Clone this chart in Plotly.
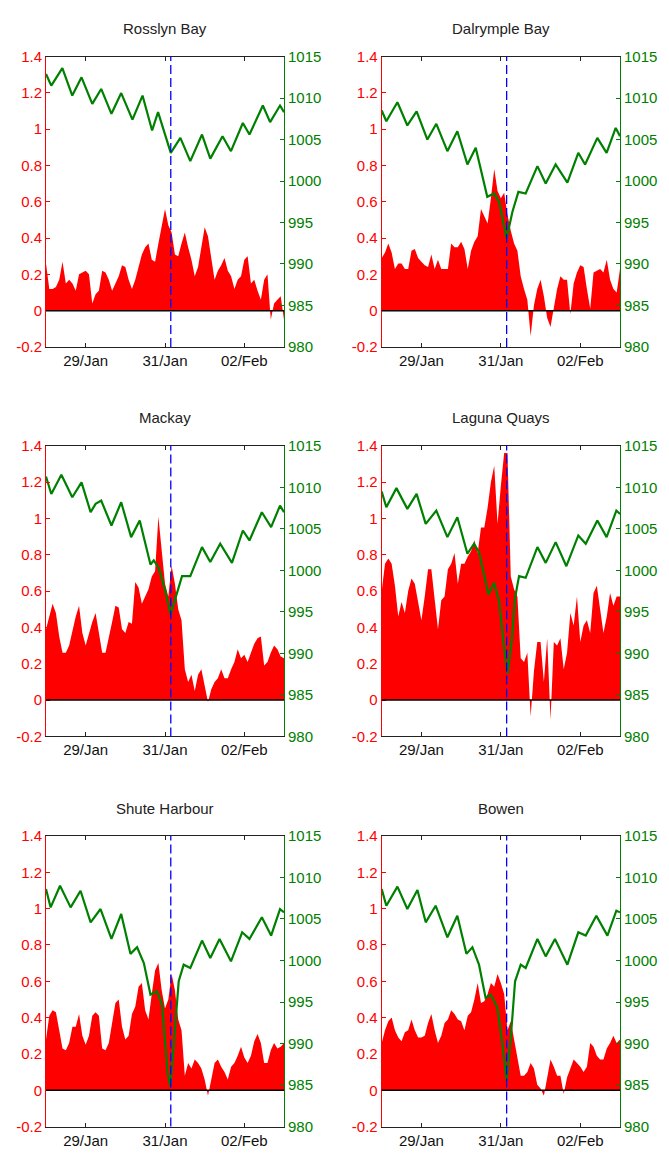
import plotly.graph_objects as go
import pandas as pd

# ---------------- data ----------------
stations = ["Rosslyn Bay", "Dalrymple Bay", "Mackay", "Laguna Quays", "Shute Harbour", "Bowen"]
series_start = "2014-01-28 00:00"
series_end = "2014-02-03 00:00"
surge_step_hours = 2
storm_time = "2014-01-31 03:30"

# residual water level (m), every 2 hours from 28/Jan 00:00
surge_rosslyn = [0.26, 0.12, 0.12, 0.13, 0.17, 0.27, 0.15, 0.17, 0.15, 0.11,
                 0.20, 0.21, 0.22, 0.20, 0.04, 0.09, 0.11, 0.22, 0.21, 0.17,
                 0.11, 0.15, 0.19, 0.25, 0.24, 0.17, 0.12, 0.17, 0.24, 0.31,
                 0.35, 0.37, 0.28, 0.27, 0.37, 0.47, 0.56, 0.47, 0.43, 0.31,
                 0.30, 0.37, 0.43, 0.35, 0.28, 0.19, 0.24, 0.35, 0.46, 0.41,
                 0.29, 0.17, 0.22, 0.25, 0.29, 0.22, 0.19, 0.12, 0.17, 0.19,
                 0.28, 0.30, 0.15, 0.17, 0.11, 0.06, 0.17, 0.20, -0.05, 0.04,
                 0.06, 0.08, -0.05]
surge_dalrymple = [0.29, 0.32, 0.37, 0.32, 0.23, 0.26, 0.26, 0.23, 0.23, 0.33,
                   0.34, 0.29, 0.27, 0.25, 0.24, 0.31, 0.23, 0.28, 0.23, 0.23,
                   0.23, 0.37, 0.35, 0.35, 0.38, 0.34, 0.23, 0.33, 0.38, 0.41,
                   0.56, 0.52, 0.48, 0.62, 0.78, 0.66, 0.62, 0.65, 0.53, 0.44,
                   0.37, 0.33, 0.19, 0.12, 0.06, -0.14, 0.03, 0.12, 0.17, 0.08,
                   -0.04, -0.09, 0.01, 0.12, 0.19, 0.17, 0.17, -0.02, 0.15, 0.21,
                   0.25, 0.24, 0.12, 0.01, 0.21, 0.22, 0.23, 0.21, 0.28, 0.17,
                   0.12, 0.10, 0.23]
surge_mackay = [0.39, 0.46, 0.53, 0.48, 0.35, 0.26, 0.26, 0.30, 0.39, 0.46,
                0.52, 0.37, 0.30, 0.37, 0.43, 0.48, 0.37, 0.26, 0.26, 0.34,
                0.43, 0.52, 0.51, 0.39, 0.37, 0.43, 0.42, 0.65, 0.62, 0.53,
                0.57, 0.61, 0.68, 0.71, 1.01, 0.82, 0.64, 0.57, 0.74, 0.64,
                0.50, 0.44, 0.17, 0.10, 0.14, 0.05, 0.14, 0.17, 0.08, -0.01,
                0.06, 0.10, 0.12, 0.17, 0.12, 0.12, 0.17, 0.21, 0.28, 0.23,
                0.25, 0.21, 0.26, 0.31, 0.34, 0.35, 0.19, 0.21, 0.26, 0.30,
                0.28, 0.24, 0.23]
surge_laguna = [0.60, 0.75, 0.78, 0.75, 0.63, 0.46, 0.54, 0.48, 0.60, 0.67,
                0.64, 0.55, 0.44, 0.57, 0.72, 0.72, 0.55, 0.39, 0.55, 0.57,
                0.72, 0.75, 0.81, 0.64, 0.75, 0.75, 0.79, 0.82, 0.88, 0.81,
                0.95, 0.95, 1.06, 1.20, 1.29, 0.97, 1.18, 1.36, 1.36, 0.68,
                0.61, 0.57, 0.23, 0.21, 0.26, -0.09, 0.16, 0.32, 0.32, 0.10,
                0.34, -0.11, 0.32, 0.30, 0.34, 0.17, 0.26, 0.48, 0.41, 0.57,
                0.32, 0.41, 0.44, 0.37, 0.59, 0.63, 0.50, 0.37, 0.46, 0.59,
                0.52, 0.57, 0.57]
surge_shute = [0.28, 0.41, 0.44, 0.43, 0.33, 0.23, 0.22, 0.26, 0.35, 0.35,
               0.42, 0.30, 0.25, 0.30, 0.41, 0.43, 0.41, 0.23, 0.22, 0.26,
               0.37, 0.48, 0.50, 0.35, 0.28, 0.30, 0.42, 0.46, 0.57, 0.59,
               0.44, 0.39, 0.53, 0.66, 0.70, 0.55, 0.45, 0.50, 0.64, 0.55,
               0.39, 0.33, 0.08, 0.15, 0.12, 0.17, 0.15, 0.12, 0.06, -0.03,
               0.06, 0.15, 0.17, 0.13, 0.10, 0.06, 0.13, 0.15, 0.19, 0.24,
               0.18, 0.15, 0.19, 0.27, 0.31, 0.26, 0.15, 0.15, 0.22, 0.26,
               0.23, 0.24, 0.26]
surge_bowen = [0.26, 0.33, 0.38, 0.40, 0.33, 0.29, 0.27, 0.32, 0.33, 0.39,
               0.33, 0.29, 0.29, 0.30, 0.37, 0.42, 0.33, 0.26, 0.30, 0.37,
               0.39, 0.44, 0.42, 0.39, 0.38, 0.33, 0.41, 0.43, 0.50, 0.59,
               0.48, 0.49, 0.53, 0.59, 0.57, 0.64, 0.59, 0.53, 0.33, 0.38,
               0.28, 0.19, 0.08, 0.08, 0.10, 0.15, 0.12, 0.03, 0.01, -0.03,
               0.08, 0.17, 0.13, 0.08, 0.08, -0.02, 0.07, 0.12, 0.17, 0.15,
               0.13, 0.10, 0.13, 0.26, 0.24, 0.19, 0.17, 0.17, 0.23, 0.26,
               0.30, 0.26, 0.28]

# mean sea level pressure (hPa): hours after 28/Jan 00:00 and readings
pres_hours_rosslyn = [0, 3.2, 9.9, 15.9, 21.5, 28, 33.4, 39.6, 45.5, 52.3, 58.4, 64.2, 67.8,
                      75.5, 81.3, 87.3, 94.4, 99.4, 106.8, 111.9, 119.1, 123.1, 131.2, 135.6, 141.6, 144]
pres_rosslyn = [1012.9, 1011.5, 1013.6, 1010.3, 1012.5, 1009.3, 1011.1, 1008.1, 1010.6, 1007.4,
                1010.3, 1006.1, 1008.3, 1003.4, 1005.2, 1002.4, 1005.6, 1002.7, 1005.4, 1003.6,
                1007.0, 1005.6, 1009.1, 1007.1, 1009.1, 1008.3]
pres_hours_dalrymple = [0, 2.8, 9.5, 15.5, 21.1, 27.6, 33.0, 39.7, 45.7, 51.8, 56.8, 63.8, 67.9, 70.9,
                        75.5, 79.0, 82.6, 87.0, 94.1, 99.1, 105.1, 112.2, 118.8, 122.9, 130.3, 135.9, 141.4, 144]
pres_dalrymple = [1008.5, 1007.2, 1009.5, 1006.7, 1008.4, 1005.0, 1006.9, 1003.6, 1006.0, 1002.0,
                  1004.0, 998.1, 998.5, 997.5, 993.1, 996.3, 998.7, 998.5, 1001.8, 999.7,
                  1002.0, 999.8, 1003.4, 1002.0, 1005.2, 1003.4, 1006.4, 1005.4]
pres_hours_mackay = [0, 3.2, 9.3, 15.9, 21.5, 27.0, 30.0, 33.4, 39.6, 45.5, 51.5, 56.7, 63.2, 65.2, 68.2,
                     72.2, 75.4, 78.9, 82.3, 87.3, 94.4, 99.4, 105.4, 112.5, 119.1, 123.1, 130.6, 136.2, 141.6, 144]
pres_mackay = [1011.3, 1009.2, 1011.5, 1008.8, 1010.6, 1007.0, 1008.0, 1008.4, 1005.4, 1008.2,
               1004.0, 1006.0, 1000.7, 1001.2, 1000.3, 997.5, 994.7, 997.1, 999.3, 999.3,
               1002.8, 1001.0, 1003.2, 1000.9, 1004.8, 1003.6, 1007.0, 1005.2, 1007.8, 1007.0]
pres_hours_laguna = [0, 2.8, 8.9, 15.5, 21.1, 26.6, 33.0, 39.7, 45.7, 51.8, 55.8, 58.8, 64.5, 67.9, 70.9,
                     73.9, 76.1, 78.6, 80.6, 83.0, 87.0, 94.1, 99.1, 105.1, 111.6, 118.8, 123.3, 130.3,
                     135.9, 141.8, 144]
pres_laguna = [1009.5, 1007.6, 1009.9, 1007.4, 1009.2, 1005.6, 1007.2, 1004.0, 1006.4, 1002.0,
               1003.2, 1002.2, 997.1, 998.5, 996.3, 990.8, 987.6, 991.6, 996.7, 999.3,
               999.1, 1002.8, 1000.9, 1003.4, 1000.5, 1004.2, 1003.2, 1006.0, 1004.0, 1007.2, 1006.8]
pres_hours_shute = [0, 2.8, 8.5, 14.9, 20.9, 27.0, 33.0, 39.6, 45.5, 51.1, 55.1, 59.2, 63.2, 67.2, 70.2,
                    73.6, 75.3, 77.7, 80.3, 83.3, 87.3, 94.4, 99.4, 105.0, 111.9, 118.7, 123.1, 130.6,
                    136.2, 141.6, 144]
pres_shute = [1008.6, 1006.4, 1009.0, 1006.4, 1008.4, 1004.6, 1006.2, 1002.6, 1005.6, 1000.8,
              1001.6, 999.7, 995.9, 996.3, 994.7, 986.4, 984.8, 990.7, 997.5, 999.5,
              999.1, 1002.4, 1000.3, 1002.6, 999.9, 1003.4, 1002.6, 1005.2, 1003.0, 1006.2, 1005.8]
pres_hours_bowen = [0, 2.8, 9.5, 15.5, 21.6, 26.6, 32.6, 39.7, 45.7, 51.2, 54.8, 58.8, 62.8, 65.9, 69.9,
                    72.9, 75.5, 78.0, 80.6, 84.0, 87.0, 94.1, 99.1, 104.7, 112.2, 118.8, 123.3, 129.7,
                    136.4, 141.8, 144]
pres_bowen = [1008.6, 1006.6, 1008.9, 1006.2, 1008.5, 1004.6, 1006.6, 1002.8, 1005.4, 1000.8,
              1001.6, 999.5, 995.5, 995.9, 994.3, 990.0, 985.6, 990.7, 997.5, 999.5,
              999.1, 1002.6, 1000.5, 1002.6, 999.5, 1003.4, 1003.0, 1005.4, 1003.0, 1006.0, 1005.8]

surges = [surge_rosslyn, surge_dalrymple, surge_mackay, surge_laguna, surge_shute, surge_bowen]
pres_hours = [pres_hours_rosslyn, pres_hours_dalrymple, pres_hours_mackay,
              pres_hours_laguna, pres_hours_shute, pres_hours_bowen]
pressures = [pres_rosslyn, pres_dalrymple, pres_mackay, pres_laguna, pres_shute, pres_bowen]

x_tick_dates = ["2014-01-29", "2014-01-31", "2014-02-02"]
x_tick_labels = ["29/Jan", "31/Jan", "02/Feb"]
left_ticks = [-0.2, 0, 0.2, 0.4, 0.6, 0.8, 1.0, 1.2, 1.4]
left_tick_labels = ["-0.2", "0", "0.2", "0.4", "0.6", "0.8", "1", "1.2", "1.4"]
right_ticks = [980, 985, 990, 995, 1000, 1005, 1010, 1015]

# ---------------- figure ----------------
W, H = 669, 1155
FONT = "Liberation Sans, Arial, sans-serif"
RED = "#FF0000"
GREEN = "#008000"

col_px = [(46, 284), (381.7, 620)]
row_px = [(48.3, 343), (443.3, 738.3), (839.3, 1134.3)]
title_px = [20, 415, 811]

t0 = pd.Timestamp(series_start)

fig = go.Figure()
layout = dict(width=W, height=H, margin=dict(l=0, r=0, t=0, b=0),
              paper_bgcolor="white", plot_bgcolor="white", showlegend=False,
              font=dict(family=FONT, size=15), hovermode=False)
shapes = []
annotations = []

for i, name in enumerate(stations):
    r, c = divmod(i, 2)
    xd = [col_px[c][0] / W, col_px[c][1] / W]
    yd = [1 - row_px[r][1] / H, 1 - row_px[r][0] / H]
    xn = i + 1
    yl = 2 * i + 1
    yr = 2 * i + 2
    xs = "x" if xn == 1 else f"x{xn}"
    yls = "y" if yl == 1 else f"y{yl}"
    yrs = f"y{yr}"

    surge_t = [t0 + pd.Timedelta(hours=surge_step_hours * k) for k in range(len(surges[i]))]
    pres_t = [t0 + pd.Timedelta(hours=h) for h in pres_hours[i]]

    fig.add_trace(go.Scatter(x=surge_t, y=surges[i], mode="lines",
                             line=dict(width=0, color=RED),
                             fill="tozeroy", fillcolor=RED,
                             xaxis=xs, yaxis=yls))
    fig.add_trace(go.Scatter(x=pres_t, y=pressures[i], mode="lines",
                             line=dict(width=2.2, color=GREEN),
                             xaxis=xs, yaxis=yrs))

    layout["xaxis" if xn == 1 else f"xaxis{xn}"] = dict(
        domain=xd, anchor=yls, type="date", range=[series_start, series_end],
        tickvals=x_tick_dates, ticktext=x_tick_labels,
        ticks="inside", ticklen=4, tickcolor="#222", showline=True, linecolor="#222",
        linewidth=1, mirror="ticks", showgrid=False, zeroline=False,
        tickfont=dict(size=15, color="#111", family=FONT))
    layout["yaxis" if yl == 1 else f"yaxis{yl}"] = dict(
        domain=yd, anchor=xs, range=[-0.2, 1.4], tickvals=left_ticks, ticktext=left_tick_labels,
        ticks="inside", ticklen=4, tickcolor=RED, showline=True, linecolor=RED, linewidth=1,
        showgrid=False, zeroline=False, tickfont=dict(size=15, color=RED, family=FONT))
    layout[f"yaxis{yr}"] = dict(
        domain=yd, anchor=xs, overlaying=yls, side="right", range=[980, 1015],
        tickvals=right_ticks, ticks="inside", ticklen=4, tickcolor=GREEN,
        showline=True, linecolor=GREEN, linewidth=1, showgrid=False, zeroline=False,
        tickfont=dict(size=15, color=GREEN, family=FONT))

    shapes.append(dict(type="line", xref=f"{xs} domain", yref=yls, x0=0, x1=1, y0=0, y1=0,
                       line=dict(color="black", width=1.5), layer="above"))
    shapes.append(dict(type="line", xref=xs, yref=f"{yls} domain", x0=storm_time, x1=storm_time,
                       y0=0, y1=1, line=dict(color="#0000FF", width=1.3, dash="9px,4px"),
                       layer="above"))
    annotations.append(dict(text=name, xref="paper", yref="paper",
                            x=(xd[0] + xd[1]) / 2, y=1 - title_px[r] / H,
                            xanchor="center", yanchor="middle", showarrow=False,
                            font=dict(size=15, color="#222", family=FONT)))

layout["shapes"] = shapes
layout["annotations"] = annotations
fig.update_layout(**layout)
fig.write_html("out.html", config={"responsive": False, "displayModeBar": False},
               post_script="document.documentElement.style.margin='0';"
                           "document.body.style.margin='0';document.body.style.overflow='hidden';")
